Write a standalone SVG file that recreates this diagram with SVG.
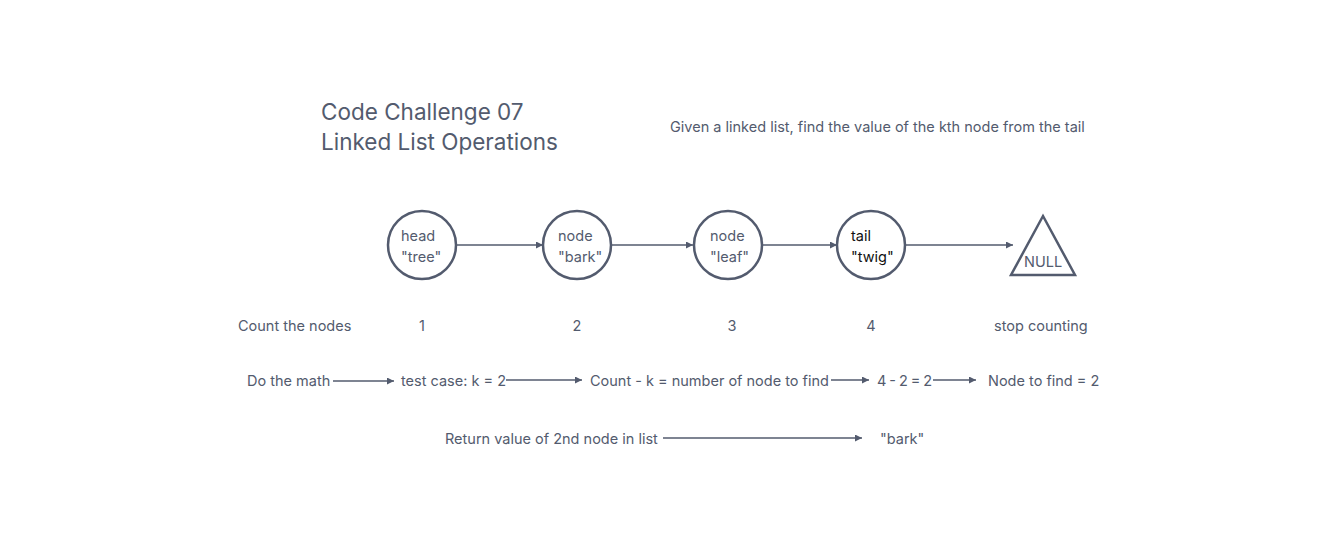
<svg xmlns="http://www.w3.org/2000/svg" width="1338" height="545" viewBox="0 0 1338 545">
<style>
text{font-family:Inter,"Liberation Sans",sans-serif;fill:#535b6e}
.t{font-size:22.5px}
.s{font-size:14.5px}
.n{fill:none;stroke:#535b6e;stroke-width:2.5}
.c{stroke:#535b6e;stroke-width:1.5;fill:none}
.dk{fill:#111}
</style>
<defs>
<marker id="ah" viewBox="0 0 10 10" refX="10" refY="5" markerWidth="7" markerHeight="7" markerUnits="userSpaceOnUse" orient="auto"><path d="M0,0L10,5L0,10z" fill="#535b6e"/></marker>
</defs>
<rect width="1338" height="545" fill="#fff"/>
<g id="title"><text class="t" x="321" y="120">Code Challenge 07</text><text class="t" x="321" y="150">Linked List Operations</text></g>
<g id="desc"><text class="s" x="670" y="132">Given a linked list, find the value of the kth node from the tail</text></g>
<g id="connectors">
<line class="c" x1="457" y1="245" x2="543" y2="245" marker-end="url(#ah)"/>
<line class="c" x1="612" y1="245" x2="693" y2="245" marker-end="url(#ah)"/>
<line class="c" x1="763" y1="245" x2="837" y2="245" marker-end="url(#ah)"/>
<line class="c" x1="906" y1="245" x2="1013" y2="245" marker-end="url(#ah)"/>
<line class="c" x1="333" y1="381" x2="394" y2="381" marker-end="url(#ah)"/>
<line class="c" x1="506" y1="380" x2="582" y2="380" marker-end="url(#ah)"/>
<line class="c" x1="831" y1="380" x2="869" y2="380" marker-end="url(#ah)"/>
<line class="c" x1="933" y1="380" x2="976" y2="380" marker-end="url(#ah)"/>
<line class="c" x1="663" y1="438" x2="862" y2="438" marker-end="url(#ah)"/>
</g>
<g id="node-head"><circle class="n" cx="422" cy="245" r="34"/><text class="s" x="401" y="241">head</text><text class="s" x="401" y="262">"tree"</text></g>
<g id="node-bark"><circle class="n" cx="577" cy="245" r="34"/><text class="s" x="558" y="241">node</text><text class="s" x="558" y="262">"bark"</text></g>
<g id="node-leaf"><circle class="n" cx="728" cy="245" r="34"/><text class="s" x="710" y="241">node</text><text class="s" x="710" y="262">"leaf"</text></g>
<g id="node-tail"><circle class="n" cx="871" cy="245" r="34"/><text class="s dk" x="851" y="241">tail</text><text class="s dk" x="851" y="262">"twig"</text></g>
<g id="node-null"><polygon class="n" points="1043,216 1075,275 1011,275"/><text class="s" x="1024" y="267">NULL</text></g>
<g id="count-row">
<text class="s" x="238" y="331">Count the nodes</text>
<text class="s" x="422" y="331" text-anchor="middle">1</text>
<text class="s" x="577" y="331" text-anchor="middle">2</text>
<text class="s" x="732" y="331" text-anchor="middle">3</text>
<text class="s" x="871" y="331" text-anchor="middle">4</text>
<text class="s" x="994" y="331">stop counting</text>
</g>
<g id="math-row">
<text class="s" x="247" y="386">Do the math</text>
<text class="s" x="401" y="386">test case: k = 2</text>
<text class="s" x="590" y="386">Count - k = number of node to find</text>
<text class="s" x="877" y="386" textLength="55">4 - 2 = 2</text>
<text class="s" x="988" y="386">Node to find = 2</text>
</g>
<g id="return-row">
<text class="s" x="445" y="444">Return value of 2nd node in list</text>
<text class="s" x="880" y="444">"bark"</text>
</g>
</svg>
